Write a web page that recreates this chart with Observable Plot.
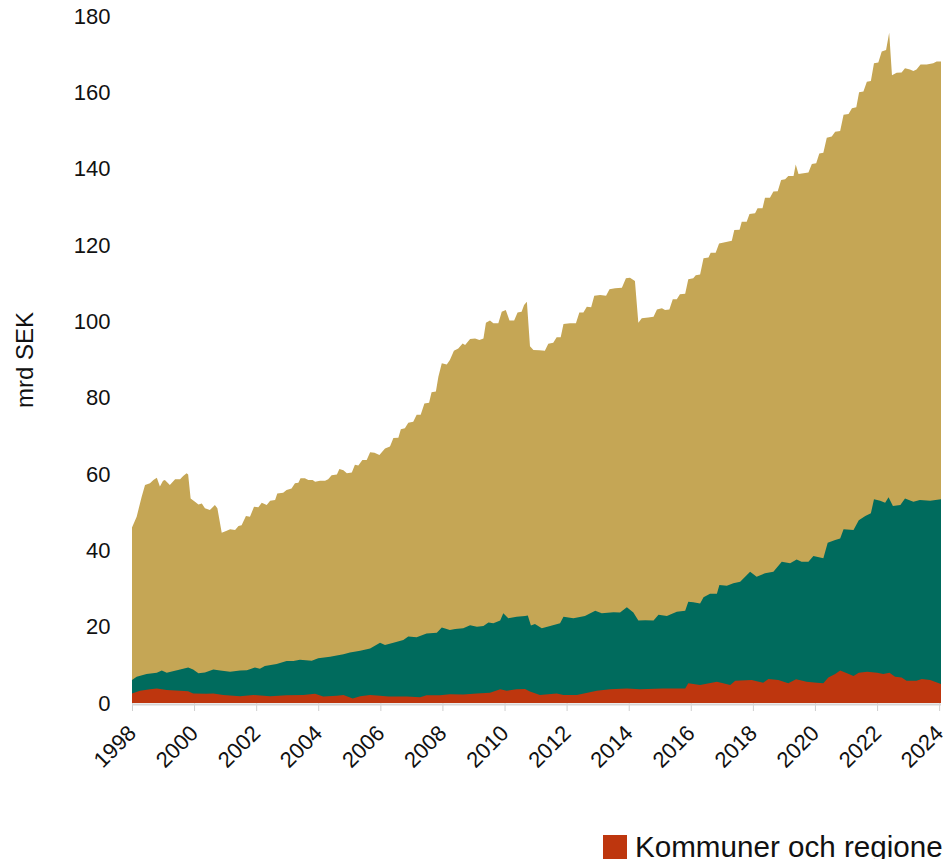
<!DOCTYPE html>
<html>
<head>
<meta charset="utf-8">
<script src="https://cdn.jsdelivr.net/npm/d3@7"></script>
<script src="https://cdn.jsdelivr.net/npm/@observablehq/plot@0.6"></script>
<style>
  html, body { margin: 0; padding: 0; background: #fff; overflow: hidden; width: 943px; }
  #chart svg { display: block; }
  #legend { margin-top: 75px; padding-left: 603px; height: 24px; display: flex; align-items: center; white-space: nowrap; font-family: "Liberation Sans", Arial, sans-serif; font-size: 29.6px; color: #111; }
  #legend .sw { display: inline-block; width: 24px; height: 24px; margin-right: 8px; flex: none; }
</style>
</head>
<body>
<div id="chart"></div>
<div id="legend"></div>
<script>
// Upper edge of each stacked layer, [decimal year, mrd SEK] (cumulative top of the layer)
const topEdgeTotal = [
[1998.0,46.0],[1998.15,48.8],[1998.31,54.0],[1998.42,57.1],[1998.58,57.6],[1998.69,58.4],[1998.8,59.0],[1998.9,56.7],[1999.0,58.2],[1999.06,58.4],[1999.22,57.1],[1999.39,58.6],[1999.55,58.6],[1999.65,59.5],[1999.76,60.2],[1999.81,59.9],[1999.89,53.6],[2000.03,52.7],[2000.14,52.0],[2000.25,52.3],[2000.35,51.0],[2000.51,50.6],[2000.67,51.9],[2000.75,51.0],[2000.89,44.6],[2001.05,45.1],[2001.16,45.5],[2001.32,45.3],[2001.43,46.4],[2001.53,46.6],[2001.67,49.0],[2001.8,48.8],[2001.93,51.4],[2002.07,51.3],[2002.18,52.5],[2002.34,51.9],[2002.45,53.0],[2002.61,53.2],[2002.68,54.9],[2002.87,55.1],[2002.98,55.8],[2003.14,56.2],[2003.25,57.6],[2003.36,57.7],[2003.43,58.9],[2003.57,58.9],[2003.68,58.4],[2003.82,58.4],[2003.9,58.0],[2004.06,58.2],[2004.22,58.2],[2004.32,58.6],[2004.43,59.7],[2004.6,59.9],[2004.68,61.3],[2004.81,61.0],[2004.92,60.2],[2005.08,60.4],[2005.18,62.4],[2005.29,62.2],[2005.42,63.7],[2005.56,63.7],[2005.67,65.7],[2005.81,65.6],[2005.97,65.0],[2006.15,66.7],[2006.31,67.2],[2006.42,69.4],[2006.58,69.5],[2006.66,71.7],[2006.79,72.0],[2006.9,73.4],[2007.06,73.7],[2007.17,75.5],[2007.3,75.5],[2007.42,78.5],[2007.57,78.7],[2007.65,81.4],[2007.79,81.6],[2007.87,85.5],[2007.98,89.0],[2008.14,88.7],[2008.24,89.9],[2008.37,92.3],[2008.51,92.9],[2008.65,94.2],[2008.73,93.8],[2008.89,95.4],[2009.05,95.5],[2009.19,95.1],[2009.32,95.5],[2009.4,99.6],[2009.53,100.2],[2009.64,99.5],[2009.8,99.5],[2009.91,102.5],[2010.04,103.0],[2010.16,100.2],[2010.31,100.2],[2010.42,102.3],[2010.55,102.5],[2010.63,104.3],[2010.72,105.1],[2010.82,93.5],[2010.93,92.5],[2011.12,92.4],[2011.3,92.3],[2011.41,94.1],[2011.57,94.4],[2011.68,95.8],[2011.81,95.8],[2011.9,99.3],[2012.11,99.5],[2012.3,99.5],[2012.41,102.3],[2012.54,102.3],[2012.65,103.8],[2012.79,103.7],[2012.89,106.7],[2013.08,106.9],[2013.27,106.7],[2013.38,108.4],[2013.56,108.7],[2013.78,108.8],[2013.91,111.3],[2014.04,111.4],[2014.2,110.6],[2014.31,99.6],[2014.42,100.8],[2014.63,101.0],[2014.8,101.2],[2014.91,103.1],[2015.07,103.4],[2015.17,103.0],[2015.31,103.1],[2015.42,105.8],[2015.55,105.8],[2015.65,107.1],[2015.82,107.2],[2015.92,111.0],[2016.08,111.3],[2016.16,112.1],[2016.3,112.3],[2016.41,116.5],[2016.57,116.7],[2016.64,118.0],[2016.8,118.0],[2016.91,120.4],[2017.1,120.7],[2017.32,121.1],[2017.4,123.9],[2017.57,124.0],[2017.64,126.1],[2017.8,126.1],[2017.89,128.1],[2018.07,128.3],[2018.15,129.6],[2018.31,129.6],[2018.39,132.4],[2018.55,132.4],[2018.66,134.0],[2018.8,134.1],[2018.91,137.0],[2019.04,137.2],[2019.14,138.1],[2019.31,138.1],[2019.38,141.1],[2019.47,138.6],[2019.63,138.8],[2019.79,139.0],[2019.9,141.2],[2020.04,141.4],[2020.14,144.0],[2020.27,144.2],[2020.38,148.1],[2020.54,148.4],[2020.65,149.7],[2020.81,149.9],[2020.92,154.1],[2021.08,154.3],[2021.19,155.8],[2021.33,156.1],[2021.42,160.0],[2021.56,160.2],[2021.67,162.8],[2021.8,163.0],[2021.9,167.6],[2022.04,167.8],[2022.15,170.7],[2022.29,171.1],[2022.39,175.6],[2022.48,164.5],[2022.63,165.1],[2022.79,165.2],[2022.9,166.3],[2023.06,166.0],[2023.17,165.6],[2023.27,166.0],[2023.4,167.3],[2023.6,167.3],[2023.81,167.6],[2023.92,168.1],[2024.06,168.1]
];
const topEdgeGreen = [
[1998.0,6.0],[1998.15,6.9],[1998.47,7.6],[1998.8,7.9],[1998.96,8.5],[1999.12,7.9],[1999.55,8.8],[1999.81,9.3],[1999.97,8.8],[2000.14,7.8],[2000.35,8.0],[2000.62,8.8],[2000.84,8.5],[2001.16,8.2],[2001.48,8.5],[2001.7,8.6],[2001.96,9.3],[2002.12,9.0],[2002.28,9.7],[2002.66,10.2],[2002.98,11.0],[2003.2,11.0],[2003.41,11.3],[2003.79,11.1],[2004.0,11.7],[2004.38,12.1],[2004.81,12.8],[2005.02,13.2],[2005.35,13.7],[2005.67,14.3],[2005.99,15.8],[2006.15,15.2],[2006.42,15.8],[2006.74,16.5],[2006.9,17.4],[2007.17,17.2],[2007.49,18.2],[2007.82,18.4],[2007.98,19.8],[2008.24,19.1],[2008.41,19.4],[2008.67,19.6],[2008.89,20.4],[2009.11,20.0],[2009.32,20.2],[2009.48,21.1],[2009.64,20.9],[2009.86,21.6],[2009.96,23.5],[2010.12,22.2],[2010.39,22.6],[2010.66,22.8],[2010.75,22.9],[2010.85,20.3],[2010.98,20.7],[2011.2,19.6],[2011.47,20.2],[2011.79,20.9],[2011.9,22.6],[2012.22,22.2],[2012.59,22.8],[2012.92,24.2],[2013.13,23.5],[2013.51,23.8],[2013.72,23.7],[2013.94,25.1],[2014.15,23.7],[2014.31,21.6],[2014.53,21.7],[2014.8,21.6],[2014.96,23.1],[2015.23,22.8],[2015.55,23.9],[2015.82,24.2],[2015.92,26.5],[2016.08,26.4],[2016.3,26.1],[2016.41,27.7],[2016.62,28.6],[2016.84,28.6],[2016.92,30.9],[2017.16,30.7],[2017.37,31.4],[2017.59,31.8],[2017.91,34.4],[2018.12,33.1],[2018.39,34.0],[2018.66,34.4],[2018.93,37.0],[2019.2,36.6],[2019.41,37.6],[2019.57,37.0],[2019.79,37.0],[2019.95,38.5],[2020.27,37.9],[2020.41,42.0],[2020.65,42.7],[2020.81,43.1],[2020.92,45.5],[2021.24,45.3],[2021.41,47.9],[2021.62,49.0],[2021.8,49.7],[2021.9,53.4],[2022.1,53.0],[2022.26,52.5],[2022.37,53.9],[2022.51,51.6],[2022.75,51.9],[2022.9,53.6],[2023.17,52.7],[2023.38,53.2],[2023.71,53.0],[2024.06,53.4]
];
const kommunerOchRegioner = [
[1998.0,2.5],[1998.26,3.2],[1998.58,3.6],[1998.8,3.8],[1999.12,3.4],[1999.55,3.2],[1999.81,3.1],[1999.97,2.5],[2000.4,2.4],[2000.62,2.5],[2000.94,2.1],[2001.48,1.8],[2001.91,2.1],[2002.45,1.8],[2002.98,2.0],[2003.52,2.1],[2003.9,2.4],[2004.16,1.7],[2004.6,1.9],[2004.81,2.1],[2005.11,1.2],[2005.35,1.8],[2005.67,2.1],[2005.99,1.9],[2006.26,1.7],[2006.85,1.7],[2007.28,1.5],[2007.49,2.0],[2007.92,2.0],[2008.24,2.3],[2008.67,2.2],[2009.11,2.5],[2009.53,2.7],[2009.86,3.6],[2010.07,3.2],[2010.39,3.6],[2010.66,3.7],[2010.82,3.0],[2011.14,2.1],[2011.68,2.5],[2011.9,2.1],[2012.33,2.1],[2012.97,3.2],[2013.4,3.6],[2013.94,3.8],[2014.36,3.6],[2015.11,3.8],[2015.82,3.8],[2015.92,5.2],[2016.3,4.7],[2016.84,5.6],[2017.27,4.7],[2017.43,5.8],[2017.96,6.0],[2018.33,5.3],[2018.5,6.3],[2018.82,6.0],[2019.14,5.2],[2019.39,6.2],[2019.73,5.6],[2020.06,5.3],[2020.27,5.2],[2020.43,6.7],[2020.65,7.6],[2020.81,8.5],[2021.03,7.8],[2021.24,7.1],[2021.41,7.9],[2021.68,8.2],[2022.0,7.9],[2022.2,7.6],[2022.4,7.9],[2022.58,6.9],[2022.79,6.7],[2022.95,5.8],[2023.27,5.8],[2023.44,6.3],[2023.71,6.0],[2024.06,5.0]
];
const yTicks = [0, 20, 40, 60, 80, 100, 120, 140, 160, 180];
const xTickYears = [1998, 2000, 2002, 2004, 2006, 2008, 2010, 2012, 2014, 2016, 2018, 2020, 2022, 2024];
const yLabel = "mrd SEK";
const legendLabels = ["Kommuner och regioner"];

const colors = { total: "#c5a655", green: "#006b5d", red: "#be360e" };

function dec(y) {
  const yr = Math.floor(y), f = y - yr;
  const a = Date.UTC(yr, 0, 1), b = Date.UTC(yr + 1, 0, 1);
  return new Date(a + f * (b - a));
}
const toRows = arr => arr.map(([t, v]) => ({ date: dec(t), value: v }));

const chart = Plot.plot({
  width: 943,
  height: 760,
  marginLeft: 132,
  marginRight: 2,
  marginTop: 16,
  marginBottom: 57,
  style: { fontFamily: "'Liberation Sans', Arial, sans-serif", fontSize: "22px", color: "#111", background: "#fff", overflow: "visible" },
  x: {
    type: "utc",
    domain: [dec(1998.0), dec(2024.06)],
    ticks: xTickYears.map(y => new Date(Date.UTC(y, 0, 1))),
    tickFormat: d3.utcFormat("%Y"),
    tickRotate: -45,
    tickSize: 8,
    tickPadding: 18,
    label: null
  },
  y: { domain: [0, 180], ticks: yTicks, tickSize: 0, tickPadding: 22, label: null },
  marks: [
    Plot.areaY(toRows(topEdgeTotal), { x: "date", y: "value", fill: colors.total }),
    Plot.areaY(toRows(topEdgeGreen), { x: "date", y: "value", fill: colors.green }),
    Plot.areaY(toRows(kommunerOchRegioner), { x: "date", y: "value", fill: colors.red }),
    Plot.ruleY([0], { stroke: "#d6d6d6", strokeWidth: 2, dy: 1 }),
    Plot.text([yLabel], { text: d => d, frameAnchor: "left", textAnchor: "middle", dx: -107, rotate: -90, fill: "#111", fontSize: 24 })
  ]
});
document.getElementById("chart").append(chart);

// grey tick marks on x axis
chart.querySelectorAll('[aria-label="x-axis tick"] path, [aria-label="x-axis"] line').forEach(el => el.setAttribute("stroke", "#cfcfcf"));

const legend = document.getElementById("legend");
const legendColors = [colors.red];
legendLabels.forEach((lab, i) => {
  const sw = document.createElement("span");
  sw.className = "sw";
  sw.style.background = legendColors[i];
  const tx = document.createElement("span");
  tx.textContent = lab;
  legend.append(sw, tx);
});
</script>
</body>
</html>
